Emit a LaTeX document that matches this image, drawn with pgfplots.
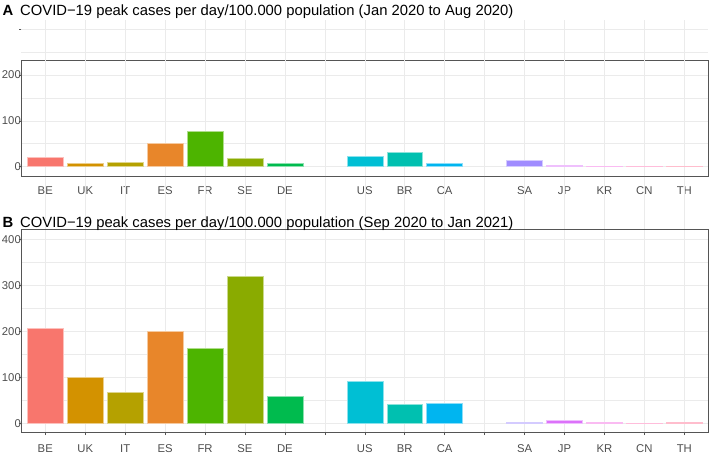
\documentclass[border=0pt]{standalone}
\usepackage{pgfplots}
\pgfplotsset{compat=1.18}
\usepackage{fontspec}
\setmainfont{Liberation Sans}
\definecolor{gridc}{HTML}{EBEBEB}
\definecolor{tickc}{HTML}{4D4D4D}
\definecolor{framec}{HTML}{555555}
\definecolor{cBE}{HTML}{F8766D}
\definecolor{cUK}{HTML}{D39200}
\definecolor{cIT}{HTML}{B5A100}
\definecolor{cES}{HTML}{E8862A}
\definecolor{cFR}{HTML}{4DB400}
\definecolor{cSE}{HTML}{8AAB00}
\definecolor{cDE}{HTML}{00BB4E}
\definecolor{cUS}{HTML}{00BFD4}
\definecolor{cBR}{HTML}{00C0B0}
\definecolor{cCA}{HTML}{00B5F0}
\definecolor{cSA}{HTML}{A08CFF}
\definecolor{cJP}{HTML}{DC72FA}
\definecolor{cKR}{HTML}{F567E3}
\definecolor{cCN}{HTML}{FF6CB0}
\definecolor{cTH}{HTML}{FF6C91}
\pgfplotsset{
  panel/.style={
    scale only axis, width=687pt, xmin=0.4, xmax=17.6,
    anchor=north west,
    xtick={1,...,17},
    xticklabels={BE,UK,IT,ES,FR,SE,DE,,US,BR,CA,,SA,JP,KR,CN,TH},
    xtick pos=bottom, ytick pos=left,
    xmajorgrids, ymajorgrids, yminorgrids, minor y tick num=1,
    major grid style={gridc, line width=0.5pt},
    minor grid style={gridc, line width=0.5pt},
    axis line style={framec, line width=0.6pt},
    tick align=outside, major tick length=2.75pt, minor tick length=0pt,
    every tick/.style={framec, line width=0.5pt},
    tick label style={font=\fontsize{11.3}{13}\selectfont, text=tickc},
    yticklabel style={xshift=5.8pt},
    /pgf/number format/assume math mode=true,
    clip=false,
  },
  b/.style={ybar, bar width=0.9, bar shift=0pt, fill=#1, draw=#1!45!white, line width=0.5pt},
}
\begin{document}
\begin{tikzpicture}
\path[use as bounding box] (0pt,0pt) rectangle (713pt,-454pt);
% Panel A
\node[anchor=base west, inner sep=0pt] at (2.5pt,-16pt) {\fontsize{14.8}{16}\selectfont\bfseries A};
\node[anchor=base west, inner sep=0pt] at (20pt,-16pt) {\fontsize{14.8}{16}\selectfont COVID−19 peak cases per day/100.000 population (Jan 2020 to Aug 2020)};
\begin{axis}[panel, at={(21.3pt,-60.7pt)}, height=116pt,
  ymin=-22, ymax=231, ytick={0,100,200},
  xticklabel style={yshift=-4pt}]
\pgfplotsinvokeforeach{1,...,17}{
  \draw[gridc, line width=0.5pt] (axis cs:#1,231) -- (axis cs:#1,320);
  \draw[gridc, line width=0.5pt] (axis cs:#1,-22) -- (axis cs:#1,-136);
}
\draw[gridc, line width=0.5pt] (axis cs:0.4,250) -- (axis cs:17.6,250);
\draw[gridc, line width=0.5pt] (axis cs:0.4,300) -- (axis cs:17.6,300);
\draw[framec, line width=0.5pt] (axis cs:0.4,300) -- ++(-2.75pt,0pt);
\addplot[b=cBE] coordinates {(1,21)};
\addplot[b=cUK] coordinates {(2,7)};
\addplot[b=cIT] coordinates {(3,10)};
\addplot[b=cES] coordinates {(4,51)};
\addplot[b=cFR] coordinates {(5,78)};
\addplot[b=cSE] coordinates {(6,18)};
\addplot[b=cDE] coordinates {(7,8)};
\addplot[b=cUS] coordinates {(9,23)};
\addplot[b=cBR] coordinates {(10,32)};
\addplot[b=cCA] coordinates {(11,7)};
\addplot[b=cSA] coordinates {(13,14)};
\addplot[b=cJP] coordinates {(14,2)};
\addplot[b=cKR] coordinates {(15,1.5)};
\addplot[b=cCN] coordinates {(16,1)};
\addplot[b=cTH] coordinates {(17,0.6)};
\end{axis}
% Panel B
\begin{axis}[panel, at={(21.3pt,-229.3pt)}, height=203pt,
  ymin=-19.6, ymax=421.7, ytick={0,100,...,400},
  xticklabel style={yshift=-6.3pt}]
\addplot[b=cBE] coordinates {(1,207)};
\addplot[b=cUK] coordinates {(2,101)};
\addplot[b=cIT] coordinates {(3,67)};
\addplot[b=cES] coordinates {(4,201)};
\addplot[b=cFR] coordinates {(5,163)};
\addplot[b=cSE] coordinates {(6,320)};
\addplot[b=cDE] coordinates {(7,59)};
\addplot[b=cUS] coordinates {(9,91)};
\addplot[b=cBR] coordinates {(10,41)};
\addplot[b=cCA] coordinates {(11,43)};
\addplot[b=cSA] coordinates {(13,3)};
\addplot[b=cJP] coordinates {(14,6.5)};
\addplot[b=cKR] coordinates {(15,3)};
\addplot[b=cCN] coordinates {(16,0.5)};
\addplot[b=cTH] coordinates {(17,3)};
\end{axis}
\node[anchor=base west, inner sep=0pt] at (2.5pt,-227.3pt) {\fontsize{14.8}{16}\selectfont\bfseries B};
\node[anchor=base west, inner sep=0pt] at (20pt,-227.3pt) {\fontsize{14.8}{16}\selectfont COVID−19 peak cases per day/100.000 population (Sep 2020 to Jan 2021)};
\end{tikzpicture}
\end{document}
